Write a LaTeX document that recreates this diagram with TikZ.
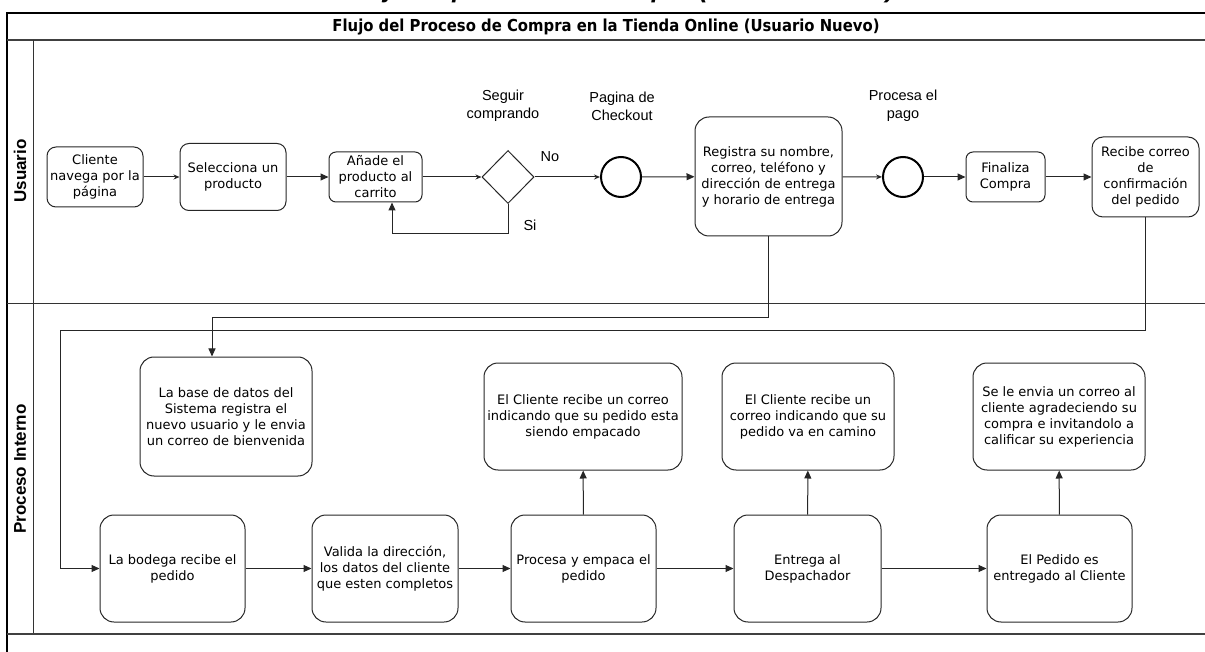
\documentclass[tikz,border=0pt]{standalone}
\usepackage{fontspec}
\setmainfont{DejaVu Sans}
\newfontfamily\arialf{Liberation Sans}
\newfontfamily\bandaf{DejaVu Sans}[FakeStretch=0.9]
\usepackage{xcolor}
\usetikzlibrary{arrows,arrows.meta,shapes,positioning,calc}

\begin{document}
\begin{tikzpicture}[x = 1pt, y = -1pt,
  caja/.style={draw=black!85, line width=1pt, rounded corners=14pt, align=center,
    inner sep=1pt, font=\fontsize{13}{16}\selectfont},
  evento/.style={circle, draw=black, line width=2pt, minimum size=40pt, inner sep=0pt},
  etiqueta/.style={align=center, font=\arialf\fontsize{14.5}{18}\selectfont},
  carril/.style={rotate=90, font=\arialf\bfseries\fontsize{17}{19}\selectfont},
  linea/.style={draw=black!85, line width=1pt},
  flecha/.style={linea, -{Triangle[length=8pt, width=7pt]}},
  flechita/.style={linea, -{Stealth[length=6pt, width=5pt]}}]
\useasboundingbox (0,0) rectangle (1205,652);

% titulo cortado arriba
\begin{scope}
\clip (0,0) rectangle (1205,12);
\node[anchor=base, inner sep=0pt, font=\arialf\bfseries\itshape\fontsize{26}{28}\selectfont] (titulo) at (620,-2) {Flujo de proceso de compra (usuario nuevo)};
\end{scope}

% pool y carriles
\draw[line width=2pt] (7,660) -- (7,13) -- (1212,13);
\draw[line width=1.5pt, black!75] (7,40) -- (1212,40);
\draw[line width=1pt, black!80] (33,40) -- (33,634);
\draw[line width=1pt, black!80] (7,304) -- (1212,304);
\draw[line width=1.5pt, black!75] (7,634) -- (1212,634);
\node[font=\bandaf\bfseries\fontsize{16.5}{18}\selectfont] (banda) at (606,27) {Flujo del Proceso de Compra en la Tienda Online (Usuario Nuevo)};
\node[carril] (usuario) at (20,171) {Usuario};
\node[carril] (interno) at (20,469) {Proceso Interno};

% carril usuario
\node[caja, rounded corners=9pt, minimum width=96pt, minimum height=60pt] (cliente) at (95,177) {Cliente\\navega por la\\página};
\node[caja, rounded corners=9pt, minimum width=106pt, minimum height=67pt] (selecciona) at (233,177) {Selecciona un\\producto};
\node[caja, rounded corners=7pt, minimum width=93pt, minimum height=50pt] (anade) at (375.5,177) {Añade el\\producto al\\carrito};
\node[diamond, draw=black!85, line width=1pt, minimum width=52pt, minimum height=53pt, inner sep=0pt] (seguir) at (508,177) {};
\node[evento] (checkout) at (621,177) {};
\node[caja, minimum width=147pt, minimum height=119pt] (registra) at (768.5,176.5) {Registra su nombre,\\correo, teléfono y\\dirección de entrega\\y horario de entrega};
\node[evento] (pago) at (903,177) {};
\node[caja, rounded corners=7pt, minimum width=79pt, minimum height=50pt] (finaliza) at (1005.5,177) {Finaliza\\Compra};
\node[caja, rounded corners=11pt, minimum width=107pt, minimum height=80pt] (recibe) at (1145.5,177) {Recibe correo\\de\\confirmación\\del pedido};

\node[etiqueta] (lseguir) at (503,106) {Seguir\\comprando};
\node[etiqueta] (lcheckout) at (622,106) {Pagina de\\Checkout};
\node[etiqueta] (lpago) at (903,106) {Procesa el\\pago};
\node[etiqueta] (lno) at (550,157) {No};
\node[etiqueta] (lsi) at (530,225) {Si};

\coordinate (vuelta) at (392,234);
\coordinate (codo1) at (212,318);
\coordinate (codo2) at (60,331);

\draw[flechita] (cliente) -- (selecciona);
\draw[flecha] (selecciona) -- (anade);
\draw[flechita] (anade) -- (seguir);
\draw[flechita] (seguir) -- (checkout);
\draw[flecha] (checkout) -- (registra);
\draw[flechita] (registra) -- (pago);
\draw[flecha] (pago) -- (finaliza);
\draw[flecha] (finaliza) -- (recibe);
\draw[flecha] (seguir.south) |- (vuelta) -- (vuelta |- anade.south);

% carril proceso interno
\node[caja, minimum width=172pt, minimum height=119pt] (basedatos) at (226,416.5) {La base de datos del\\Sistema registra el\\nuevo usuario y le envia\\un correo de bienvenida};
\node[caja, minimum width=198pt, minimum height=107pt] (empacado) at (583,416.5) {El Cliente recibe un correo\\indicando que su pedido esta\\siendo empacado};
\node[caja, minimum width=172pt, minimum height=107pt] (camino) at (808,416.5) {El Cliente recibe un\\correo indicando que su\\pedido va en camino};
\node[caja, minimum width=172pt, minimum height=107pt] (envia) at (1059,416.5) {Se le envia un correo al\\cliente agradeciendo su\\compra e invitandolo a\\calificar su experiencia};

\node[caja, minimum width=145pt, minimum height=107pt] (bodega) at (172.5,568.5) {La bodega recibe el\\pedido};
\node[caja, minimum width=146pt, minimum height=107pt] (valida) at (385,568.5) {Valida la dirección,\\los datos del cliente\\que esten completos};
\node[caja, minimum width=145pt, minimum height=107pt] (procesa) at (583.5,568.5) {Procesa y empaca el\\pedido};
\node[caja, minimum width=147pt, minimum height=107pt] (entrega) at (807.5,568.5) {Entrega al\\Despachador};
\node[caja, minimum width=145pt, minimum height=107pt] (pedido) at (1059.5,568.5) {El Pedido es\\entregado al Cliente};

\draw[flecha] (registra.south) |- (codo1) -- (codo1 |- basedatos.north);
\draw[flecha] (recibe.south) |- (codo2) |- (bodega.west);
\draw[flecha] (bodega) -- (valida);
\draw[flecha] (valida) -- (procesa);
\draw[flecha] (procesa) -- (entrega);
\draw[flecha] (entrega) -- (pedido);
\draw[flecha] (procesa) -- (empacado);
\draw[flecha] (entrega) -- (camino);
\draw[flecha] (pedido) -- (envia);

\end{tikzpicture}
\end{document}
